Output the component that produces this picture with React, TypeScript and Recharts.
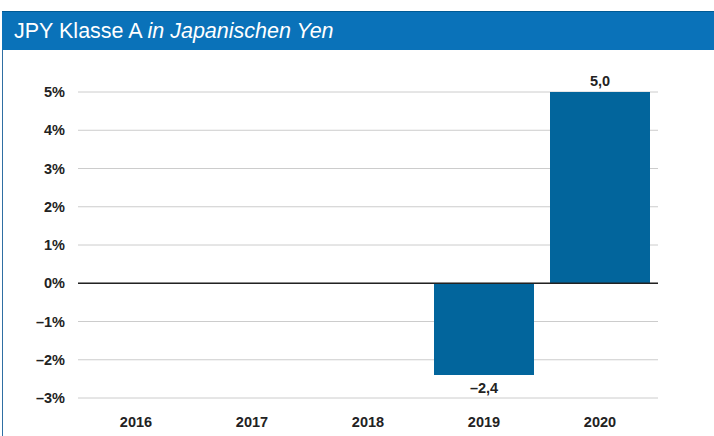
import React from 'react'
import { BarChart, Bar, XAxis, YAxis, CartesianGrid, ReferenceLine, LabelList } from 'recharts'

const years = ['2016', '2017', '2018', '2019', '2020']
const returns: (number | null)[] = [null, null, null, -2.4, 5.0]
const yTicks = [-3, -2, -1, 0, 1, 2, 3, 4, 5]

const data = years.map((year, i) => ({ year, value: returns[i] }))

const fmtPct = (v: number) => `${v < 0 ? '\u2013' : ''}${Math.abs(v)}%`
const fmtVal = (v: number) => `${v < 0 ? '\u2013' : ''}${Math.abs(v).toFixed(1).replace('.', ',')}`

const font = '"Liberation Sans", Arial, Helvetica, sans-serif'

function ValueLabel(props: any) {
  const { x, y, width, height, value } = props
  if (value == null) return null
  const top = Math.min(y, y + height)
  const bottom = Math.max(y, y + height)
  const ty = value >= 0 ? top - 6 : bottom + 18
  return (
    <text x={x + width / 2} y={ty} textAnchor="middle" fontSize={14.5} fontWeight="bold" fill="#222" fontFamily={font}>
      {fmtVal(value)}
    </text>
  )
}

export default function App() {
  return (
    <div style={{ position: 'absolute', left: 0, top: 0, width: 714, height: 436, background: '#fff', fontFamily: font }}>
      <div style={{ position: 'absolute', left: 2, top: 11, width: 1, height: 425, background: '#2f6fa3' }} />
      <div
        style={{
          position: 'absolute',
          left: 2,
          top: 11,
          width: 712,
          height: 39,
          background: '#0a72b9',
          borderTop: '1px solid #005a94',
          boxSizing: 'border-box',
          color: '#fff',
          fontSize: 21.5,
          lineHeight: '38px',
          paddingLeft: 12,
        }}
      >
        JPY Klasse A <i>in Japanischen Yen</i>
      </div>
      <div style={{ position: 'absolute', left: 0, top: 0 }}>
        <BarChart width={714} height={436} data={data} margin={{ top: 92, right: 56, bottom: 0, left: 0 }} barSize={100}>
          <CartesianGrid vertical={false} stroke="#cccccc" strokeWidth={1} />
          <XAxis
            dataKey="year"
            axisLine={false}
            tickLine={false}
            height={38}
            tickMargin={13}
            tick={{ fontSize: 14.5, fontWeight: 'bold', fill: '#222', fontFamily: font }}
          />
          <YAxis
            type="number"
            domain={[-3, 5]}
            ticks={yTicks}
            width={78}
            axisLine={false}
            tickLine={false}
            tickSize={0}
            tickMargin={13}
            tickFormatter={fmtPct}
            tick={{ fontSize: 14.5, fontWeight: 'bold', fill: '#222', fontFamily: font }}
          />
          <ReferenceLine y={0} stroke="#222" strokeWidth={1.5} />
          <Bar dataKey="value" fill="#02659c" isAnimationActive={false}>
            <LabelList dataKey="value" content={ValueLabel} />
          </Bar>
        </BarChart>
      </div>
    </div>
  )
}
